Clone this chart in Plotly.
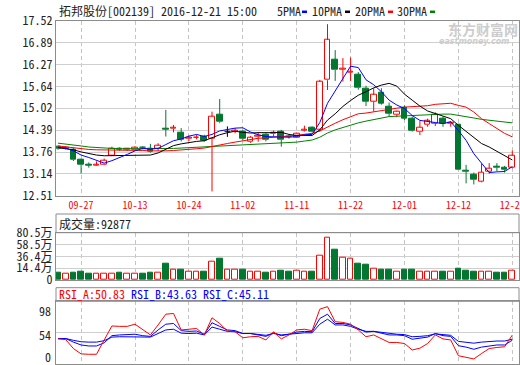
import plotly.graph_objects as go

# ---------------- data ----------------
dates = ["09-22", "09-23", "09-26", "09-27", "09-28", "09-29", "09-30",
         "10-10", "10-11", "10-12", "10-13", "10-14", "10-17", "10-18", "10-19", "10-20",
         "10-21", "10-24", "10-25", "10-26", "10-27", "10-28", "10-31",
         "11-01", "11-02", "11-03", "11-04", "11-07", "11-08", "11-09", "11-10", "11-11",
         "11-14", "11-15", "11-16", "11-17", "11-18", "11-21", "11-22", "11-23", "11-24",
         "11-25", "11-28", "11-29", "11-30",
         "12-01", "12-02", "12-05", "12-06", "12-07", "12-08", "12-09", "12-12", "12-13",
         "12-14", "12-15", "12-16", "12-19", "12-20", "12-21"]
label_dates = ["09-27", "10-13", "10-24", "11-02", "11-11", "11-22", "12-01", "12-12", "12-21"]

opens = [13.92, 13.86, 13.83, 13.54, 13.41, 13.39, 13.40, 13.67, 13.87, 13.83,
         13.82, 13.89, 13.86, 13.86, 14.43, 14.43, 14.33, 14.15, 14.17, 14.21,
         14.16, 14.83, 14.36, 14.36, 14.35, 14.06, 14.21, 14.25, 14.28, 14.35,
         14.21, 14.19, 14.38, 14.46, 14.40, 15.82, 16.40, 16.13, 16.04, 15.97,
         15.58, 15.21, 15.45, 15.06, 14.83, 15.02, 14.73, 14.35, 14.54, 14.59,
         14.71, 14.58, 14.54, 13.24, 13.11, 12.92, 13.20, 13.34, 13.33, 13.33]
highs = [13.95, 13.93, 13.88, 13.58, 13.47, 13.50, 13.58, 13.92, 13.90, 13.88,
         13.93, 13.93, 14.00, 14.02, 14.97, 14.54, 14.45, 14.24, 14.26, 14.26,
         14.92, 15.28, 14.50, 14.45, 14.40, 14.22, 14.34, 14.30, 14.38, 14.40,
         14.27, 14.32, 14.52, 14.50, 15.83, 17.42, 16.68, 16.45, 16.47, 16.05,
         15.66, 15.59, 15.59, 15.18, 14.95, 15.10, 14.78, 14.65, 14.72, 14.90,
         14.78, 14.65, 14.56, 13.40, 13.18, 13.43, 13.45, 13.45, 13.37, 13.81]
lows = [13.83, 13.84, 13.51, 13.15, 13.32, 13.38, 13.39, 13.65, 13.80, 13.80,
        13.80, 13.84, 13.75, 13.80, 14.21, 14.33, 14.07, 14.08, 14.13, 14.06,
        12.64, 14.59, 14.20, 14.30, 14.11, 14.03, 14.06, 14.07, 14.20, 13.92,
        14.15, 14.17, 14.35, 14.33, 14.35, 15.54, 15.80, 15.78, 15.80, 15.55,
        15.08, 14.92, 15.12, 14.78, 14.76, 14.68, 14.35, 14.25, 14.49, 14.51,
        14.49, 14.49, 13.25, 12.87, 12.84, 12.90, 13.15, 13.22, 13.18, 13.30]
closes = [13.85, 13.88, 13.54, 13.40, 13.39, 13.40, 13.53, 13.86, 13.84, 13.86,
          13.90, 13.88, 13.77, 13.95, 14.41, 14.46, 14.11, 14.17, 14.19, 14.10,
          14.78, 14.62, 14.36, 14.38, 14.16, 14.19, 14.23, 14.11, 14.31, 14.11,
          14.20, 14.30, 14.40, 14.35, 15.78, 16.97, 16.11, 16.16, 16.06, 15.60,
          15.21, 15.40, 15.16, 14.87, 14.92, 14.72, 14.38, 14.47, 14.65, 14.83,
          14.59, 14.60, 13.25, 13.21, 12.97, 13.19, 13.30, 13.32, 13.26, 13.66]

ma5 = [13.90, 13.88, 13.80, 13.68, 13.61, 13.52, 13.45, 13.52, 13.60, 13.70,
       13.80, 13.87, 13.85, 13.87, 13.98, 14.09, 14.14, 14.22, 14.27, 14.21,
       14.27, 14.37, 14.41, 14.45, 14.46, 14.34, 14.26, 14.21, 14.20, 14.19,
       14.19, 14.21, 14.26, 14.27, 14.61, 15.16, 15.52, 15.87, 16.22, 16.18,
       15.83, 15.69, 15.49, 15.25, 15.11, 15.01, 14.81, 14.67, 14.63, 14.61,
       14.58, 14.63, 14.38, 14.10, 13.72, 13.44, 13.18, 13.20, 13.21, 13.35]
ma10 = [13.89, 13.86, 13.83, 13.77, 13.72, 13.68, 13.66, 13.66, 13.66, 13.66,
        13.66, 13.66, 13.68, 13.74, 13.84, 13.95, 14.00, 14.04, 14.07, 14.09,
        14.18, 14.26, 14.32, 14.36, 14.33, 14.31, 14.32, 14.31, 14.32, 14.33,
        14.27, 14.24, 14.24, 14.24, 14.40, 14.68, 14.86, 15.07, 15.24, 15.39,
        15.49, 15.60, 15.68, 15.73, 15.65, 15.42, 15.25, 15.08, 14.94, 14.86,
        14.80, 14.72, 14.53, 14.36, 14.17, 14.01, 13.91, 13.79, 13.65, 13.54]
ma20 = [13.94, 13.91, 13.88, 13.86, 13.84, 13.83, 13.83, 13.83, 13.83, 13.83,
        13.82, 13.81, 13.80, 13.79, 13.80, 13.81, 13.82, 13.84, 13.86, 13.88,
        13.93, 13.97, 14.01, 14.05, 14.09, 14.13, 14.16, 14.17, 14.20, 14.21,
        14.22, 14.25, 14.28, 14.30, 14.37, 14.49, 14.59, 14.69, 14.78, 14.86,
        14.88, 14.92, 14.96, 14.98, 15.02, 15.05, 15.06, 15.07, 15.09, 15.13,
        15.15, 15.16, 15.10, 15.05, 14.91, 14.72, 14.58, 14.44, 14.30, 14.20]
ma30 = [14.02, 14.00, 13.97, 13.94, 13.91, 13.89, 13.88, 13.87, 13.86, 13.86,
        13.86, 13.85, 13.85, 13.85, 13.86, 13.87, 13.88, 13.89, 13.90, 13.91,
        13.92, 13.93, 13.94, 13.95, 13.96, 13.97, 13.98, 13.99, 14.00, 14.02,
        14.04, 14.05, 14.08, 14.11, 14.19, 14.31, 14.40, 14.47, 14.55, 14.60,
        14.65, 14.70, 14.74, 14.78, 14.79, 14.80, 14.81, 14.82, 14.84, 14.86,
        14.85, 14.85, 14.82, 14.78, 14.74, 14.70, 14.67, 14.65, 14.61, 14.60]

volume_wan = [6.0, 4.9, 6.0, 7.3, 3.6, 3.6, 3.6, 4.9, 5.4, 4.9,
              3.6, 3.6, 5.4, 5.4, 22.2, 12.3, 11.0, 7.3, 7.3, 7.3,
              27.2, 31.5, 11.0, 11.0, 11.0, 7.3, 7.3, 5.4, 8.6, 9.7,
              7.9, 9.2, 7.3, 7.3, 38.4, 71.9, 48.3, 34.7, 32.8, 22.2,
              20.3, 14.2, 11.0, 12.3, 8.6, 11.0, 11.0, 7.3, 7.3, 8.6,
              7.3, 7.3, 12.9, 9.2, 7.3, 7.3, 7.3, 5.4, 5.4, 9.29]

rsi_a = [45.4, 44.5, 32, 24.5, 24, 24, 44, 63.5, 63, 63,
         66, 58, 51, 65, 80, 81, 58, 59, 60, 51,
         75, 67, 56.5, 55.5, 47, 48.5, 49, 44, 55.5, 45.5,
         51, 58, 59, 57, 87, 90.5, 69.5, 68.5, 66, 58,
         48.5, 51, 46, 40.5, 40.5, 39, 30, 32.5, 39, 51,
         45.5, 44, 22, 19.5, 17.5, 25, 32, 33.5, 34.5, 50.83]
rsi_b = [46, 46, 41, 37, 35.6, 35.6, 40, 50, 51, 51,
         52, 50, 49, 58, 66, 67, 57, 56, 56.5, 52,
         68, 63, 58, 57, 53, 53, 51, 49, 54, 50,
         52, 55, 56, 55.5, 74, 80, 67, 67, 65, 60,
         55, 56, 54, 51, 51, 50, 45, 46, 48, 53,
         50, 49, 36, 34, 31, 34, 36, 37, 37, 43.63]
rsi_c = [46, 46, 43.5, 41.5, 41, 41, 43, 48, 48.5, 48.5,
         49, 48.5, 48, 53, 58, 59, 53.5, 53, 53.5, 51,
         62, 59, 56, 55.5, 53, 53, 51.5, 50.5, 53, 51,
         52, 53.5, 54, 54, 66, 73, 65, 65, 63, 59,
         56, 56, 54.5, 52.5, 52, 51.5, 48.5, 49, 50, 52.5,
         51, 50.5, 42, 41, 39.5, 41, 42, 42.5, 42.5, 45.11]

price_ticks = [17.52, 16.89, 16.27, 15.64, 15.02, 14.39, 13.76, 13.14, 12.51]
vol_ticks = [80.5, 58.5, 36.4, 14.4]
vol_floor = -7.6          # bottom of the volume scale (printed as "0")
rsi_ticks = [98, 54, 10]  # rsi scale top / middle / bottom
rsi_tick_text = ["98", "54", "0"]

title_text = "拓邦股份[002139] 2016-12-21 15:00"
vol_header = "成交量:92877"
rsi_labels = ["RSI_A:50.83", "RSI_B:43.63", "RSI_C:45.11"]
ma_names = ["5PMA", "10PMA", "20PMA", "30PMA"]

# ---------------- style / geometry ----------------
W, H = 520, 365
RED = "#ff0000"
GRN = "#03772f"
BLUE = "#0000ff"
FRAME = "#8c8c8c"
GRIDH = "#cfcfcf"
GRIDV = "#c4c4c4"
MONO = "Noto Sans Mono CJK SC, DejaVu Sans Mono, monospace"
TXT = "#222222"


def px(x):
    return x / W


def py(y):
    return (H - y) / H


PLOT_L, PLOT_R = 56, 519
MAIN_T, MAIN_B = 20.7, 196
VOL_HEAD_T, VOL_T, VOL_B = 214, 232.7, 280
RSI_HEAD_T, RSI_T, RSI_B = 287.7, 301.3, 364.3
SLOT, FIRST = 7.7, 58
x_lo = (PLOT_L - FIRST) / SLOT
x_hi = (PLOT_R - FIRST) / SLOT
BW = 0.75

n = len(closes)
xs = list(range(n))
tick_idx = [dates.index(d) for d in label_dates]

up = [i for i in xs if closes[i] > opens[i]]
dn = [i for i in xs if closes[i] < opens[i]]
dj = [i for i in xs if closes[i] == opens[i]]

fig = go.Figure()


def body(idx, fill, line):
    return go.Bar(x=idx, y=[abs(closes[i] - opens[i]) for i in idx],
                  base=[min(opens[i], closes[i]) for i in idx], width=BW,
                  marker=dict(color=fill, line=dict(color=line, width=1)),
                  xaxis="x", yaxis="y", hoverinfo="skip")


def wicks(idx):
    wx, wy = [], []
    for i in idx:
        top, bot = max(opens[i], closes[i]), min(opens[i], closes[i])
        if highs[i] > top:
            wx += [i, i, None]
            wy += [top, highs[i], None]
        if lows[i] < bot:
            wx += [i, i, None]
            wy += [lows[i], bot, None]
    return wx, wy


fig.add_trace(body(up, "white", RED))
fig.add_trace(body(dn, GRN, GRN))
for idx, col in ((up, RED), (dn, GRN)):
    wx, wy = wicks(idx)
    fig.add_trace(go.Scatter(x=wx, y=wy, mode="lines", line=dict(color=col, width=1),
                             xaxis="x", yaxis="y", hoverinfo="skip"))
# doji candles (open == close) drawn black
dx, dy = [], []
for i in dj:
    dx += [i, i, None, i - BW / 2, i + BW / 2, None]
    dy += [lows[i], highs[i], None, opens[i], opens[i], None]
fig.add_trace(go.Scatter(x=dx, y=dy, mode="lines", line=dict(color="black", width=1),
                         xaxis="x", yaxis="y", hoverinfo="skip"))

for vals, col in ((ma30, "#008000"), (ma20, RED), (ma10, "black"), (ma5, BLUE)):
    fig.add_trace(go.Scatter(x=xs, y=vals, mode="lines", line=dict(color=col, width=1),
                             xaxis="x", yaxis="y", hoverinfo="skip"))

# volume
vup = [i for i in xs if closes[i] >= opens[i]]
vdn = [i for i in xs if closes[i] < opens[i]]
fig.add_trace(go.Bar(x=vup, y=[volume_wan[i] - vol_floor for i in vup], base=vol_floor,
                     width=BW, marker=dict(color="white", line=dict(color=RED, width=1)),
                     xaxis="x2", yaxis="y2", hoverinfo="skip"))
fig.add_trace(go.Bar(x=vdn, y=[volume_wan[i] - vol_floor for i in vdn], base=vol_floor,
                     width=BW, marker=dict(color=GRN, line=dict(color=GRN, width=1)),
                     xaxis="x2", yaxis="y2", hoverinfo="skip"))

# RSI
for vals, col in ((rsi_c, BLUE), (rsi_b, BLUE), (rsi_a, RED)):
    fig.add_trace(go.Scatter(x=xs, y=vals, mode="lines", line=dict(color=col, width=1),
                             xaxis="x3", yaxis="y3", hoverinfo="skip"))

xcommon = dict(range=[x_lo, x_hi], tickvals=tick_idx, ticktext=label_dates,
               showgrid=True, gridcolor=GRIDV, griddash="4px,3px", gridwidth=1,
               showline=True, mirror=True, linecolor=FRAME, linewidth=1,
               zeroline=False, ticks="", automargin=False,
               domain=[px(PLOT_L), px(PLOT_R)])
ycommon = dict(showgrid=True, gridcolor=GRIDH, gridwidth=1, showline=True, mirror=True,
               linecolor=FRAME, linewidth=1, zeroline=False, ticks="", automargin=False,
               tickfont=dict(family=MONO, size=12, color=TXT))

fig.update_layout(
    width=W, height=H, autosize=False,
    margin=dict(l=0, r=0, t=0, b=0, pad=0, autoexpand=False),
    paper_bgcolor="white", plot_bgcolor="white", showlegend=False,
    barmode="overlay", bargap=0,
    font=dict(family=MONO, size=12, color=TXT),
    xaxis=dict(xcommon, anchor="y", showticklabels=True, ticklabeloverflow="allow",
               tickfont=dict(family=MONO, size=10, color=RED)),
    xaxis2=dict(xcommon, anchor="y2", showticklabels=False),
    xaxis3=dict(xcommon, anchor="y3", showticklabels=False),
    yaxis=dict(ycommon, anchor="x", domain=[py(MAIN_B), py(MAIN_T)],
               range=[price_ticks[-1], price_ticks[0]], tickvals=price_ticks,
               ticktext=[f"{v:.2f}" for v in price_ticks]),
    yaxis2=dict(ycommon, anchor="x2", domain=[py(VOL_B), py(VOL_T)],
                range=[vol_floor, vol_ticks[0]], tickvals=[vol_floor] + vol_ticks[::-1],
                ticktext=["0"] + [f"{v}万" for v in vol_ticks[::-1]]),
    yaxis3=dict(ycommon, anchor="x3", domain=[py(RSI_B), py(RSI_T)],
                range=[rsi_ticks[-1], rsi_ticks[0]], tickvals=[rsi_ticks[1]],
                showticklabels=False),
)

shapes = []
for top, bot in ((VOL_HEAD_T, VOL_T), (RSI_HEAD_T, RSI_T)):
    shapes.append(dict(type="rect", xref="paper", yref="paper",
                       x0=px(PLOT_L), x1=px(PLOT_R), y0=py(bot), y1=py(top),
                       line=dict(color=FRAME, width=1), fillcolor="rgba(0,0,0,0)"))
# legend keys
for (x0, x1), col in zip(((302, 307), (345, 350), (388, 393), (430, 435)),
                         (BLUE, "black", RED, "#008000")):
    shapes.append(dict(type="line", xref="paper", yref="paper", x0=px(x0), x1=px(x1),
                       y0=py(11.8), y1=py(11.8), line=dict(color=col, width=2.5)))
fig.update_layout(shapes=shapes)

ann = []


def text(x, y, s, size=12, color=TXT, anchor="left", family=MONO, **kw):
    ann.append(dict(xref="paper", yref="paper", x=px(x), y=py(y), text=s, showarrow=False,
                    xanchor=anchor, yanchor="middle", font=dict(family=family, size=size, color=color),
                    **kw))


text(57, 10.5, title_text)
for x0, name in zip((275, 310, 353, 395), ma_names):
    text(x0, 10.5, name)
text(57, 223.3, vol_header)
for x0, lab, col in zip((57, 129, 201), rsi_labels, (RED, BLUE, BLUE)):
    text(x0, 293.5, lab, color=col)
for ylab, lab in zip((310, 334.3, 356), rsi_tick_text):
    text(53, ylab, lab, anchor="right")
# watermark
text(483, 29.0, "<b>东方财富网</b>", size=14, color="#cdcdcd", anchor="center",
     family="Noto Sans CJK SC")
text(474, 41.5, "<b><i>eastmoney.com</i></b>", size=8, color="#cdcdcd", anchor="center",
     family="DejaVu Sans")
fig.update_layout(annotations=ann)

page_fix = ("document.documentElement.style.margin='0px';"
            "document.documentElement.style.overflow='hidden';"
            "document.body.style.margin='0px';"
            "document.body.style.padding='0px';"
            "document.body.style.overflow='hidden';")

fig.write_html("out.html", config={"responsive": False, "displayModeBar": False},
               post_script=page_fix)
